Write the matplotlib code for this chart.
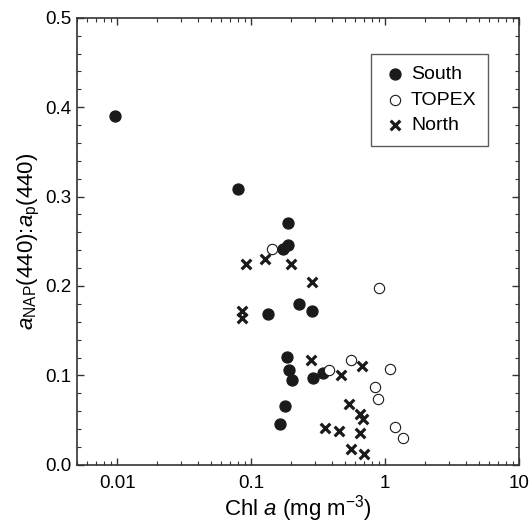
import matplotlib
matplotlib.use("Agg")
import matplotlib.pyplot as plt
from matplotlib.ticker import MultipleLocator, LogLocator, NullFormatter

plt.rcParams['font.family'] = ['Liberation Sans', 'DejaVu Sans']
plt.rcParams['mathtext.fontset'] = 'custom'
plt.rcParams['mathtext.rm'] = 'Liberation Sans'
plt.rcParams['mathtext.it'] = 'Liberation Sans:italic'

# South (filled circles)
south_chl = [0.0096, 0.080, 0.19, 0.19, 0.173, 0.134, 0.23, 0.284, 0.187, 0.193, 0.201, 0.29, 0.342, 0.18, 0.164]
south_ratio = [0.390, 0.308, 0.271, 0.246, 0.241, 0.169, 0.180, 0.172, 0.121, 0.106, 0.095, 0.097, 0.103, 0.066, 0.046]

# TOPEX (open circles)
topex_chl = [0.1445, 0.383, 0.56, 0.906, 1.09, 0.836, 0.886, 1.19, 1.355]
topex_ratio = [0.241, 0.106, 0.117, 0.198, 0.107, 0.087, 0.074, 0.042, 0.030]

# North (crosses)
north_chl = [0.091, 0.126, 0.199, 0.284, 0.085, 0.085, 0.281, 0.469, 0.675, 0.536, 0.65, 0.68, 0.358, 0.456, 0.656, 0.562, 0.695]
north_ratio = [0.225, 0.230, 0.225, 0.205, 0.172, 0.164, 0.117, 0.100, 0.111, 0.068, 0.057, 0.051, 0.041, 0.038, 0.036, 0.018, 0.012]

fig = plt.figure(figsize=(5.3, 5.24), dpi=100)
ax = fig.add_axes([0.145, 0.113, 0.834, 0.853])

ax.scatter(south_chl, south_ratio, s=62, marker='o', facecolor='#1a1a1a', edgecolor='#1a1a1a', label='South', zorder=3)
ax.scatter(topex_chl, topex_ratio, s=55, marker='o', facecolor='white', edgecolor='#1a1a1a', linewidths=0.8, label='TOPEX', zorder=3)
ax.scatter(north_chl, north_ratio, s=48, marker='x', color='#1a1a1a', linewidths=2.3, label='North', zorder=3)

ax.set_xscale('log')
ax.set_xlim(0.005, 10)
ax.set_ylim(0, 0.5)
ax.set_xticks([0.01, 0.1, 1, 10])
ax.set_xticklabels(['0.01', '0.1', '1', '10'])
ax.xaxis.set_minor_locator(LogLocator(base=10, subs=range(2, 10)))
ax.xaxis.set_minor_formatter(NullFormatter())
ax.set_yticks([0, 0.1, 0.2, 0.3, 0.4, 0.5])
ax.set_yticklabels(['0.0', '0.1', '0.2', '0.3', '0.4', '0.5'])
ax.yaxis.set_minor_locator(MultipleLocator(0.02))

ax.tick_params(which='both', direction='in', top=True, right=True, labelsize=13.5, color='#333333')
ax.tick_params(which='major', length=5, width=1)
ax.tick_params(which='minor', length=3, width=0.8)
ax.tick_params(axis='x', which='major', pad=7)
ax.tick_params(axis='y', which='major', pad=4)
for sp in ax.spines.values():
    sp.set_linewidth(1.2)
    sp.set_color('#333333')

ax.set_xlabel('Chl $a$ (mg m$^{-3}$)', fontsize=16, labelpad=1)
ax.set_ylabel('$a_{\\mathrm{NAP}}$(440):$a_{\\mathrm{p}}$(440)', fontsize=16, labelpad=2)

leg = ax.legend(loc='upper right', bbox_to_anchor=(0.931, 0.919), fontsize=14, frameon=True, fancybox=False,
                edgecolor='#333333', handletextpad=0.25, borderpad=0.6, labelspacing=0.4, handlelength=1.2,
                borderaxespad=0, scatterpoints=1)
leg.get_frame().set_linewidth(1.0)

plt.savefig('out.png', dpi=100)
